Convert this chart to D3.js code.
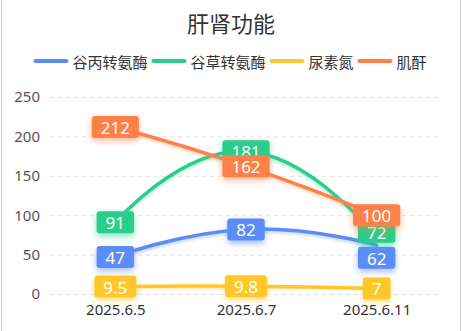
<!DOCTYPE html>
<html>
<head>
<meta charset="utf-8">
<script src="https://cdn.jsdelivr.net/npm/d3@7/dist/d3.min.js"></script>
<style>
  html, body { margin: 0; padding: 0; background: #fff; }
  svg { display: block; font-family: "Noto Sans CJK SC", "Noto Sans", sans-serif; }
</style>
</head>
<body>
<svg id="chart" width="462" height="331"></svg>
<script>
// Liver and kidney function panel
const title = "肝肾功能";
const dates = ["2025.6.5", "2025.6.7", "2025.6.11"];
const seriesNames = ["谷丙转氨酶", "谷草转氨酶", "尿素氮", "肌酐"];
const altValues = [47, 82, 62];
const astValues = [91, 181, 72];
const bunValues = [9.5, 9.8, 7];
const creaValues = [212, 162, 100];
const yTicks = [0, 50, 100, 150, 200, 250];
const colors = ["#5B8CF8", "#2ACD8C", "#FFC72C", "#FF8148"];
// series whose value labels are nudged apart when they collide
const shiftSeries = [true, true, false, false];

const seriesValues = [altValues, astValues, bunValues, creaValues];
const series = seriesNames.map((name, i) => ({
  name, color: colors[i], values: seriesValues[i], shift: shiftSeries[i], index: i
}));

const W = 462, H = 331;
const svg = d3.select("#chart");

// card border (left and right edges)
svg.append("line").attr("x1", 1.5).attr("x2", 1.5).attr("y1", 0).attr("y2", H)
  .attr("stroke", "#cfcfcf").attr("stroke-width", 1);
svg.append("line").attr("x1", W - 1.5).attr("x2", W - 1.5).attr("y1", 0).attr("y2", H)
  .attr("stroke", "#cfcfcf").attr("stroke-width", 1);

// shadow filters per series colour
const defs = svg.append("defs");
series.forEach(s => {
  const f = defs.append("filter").attr("id", "glow" + s.index)
    .attr("x", "-40%").attr("y", "-60%").attr("width", "180%").attr("height", "240%");
  f.append("feDropShadow").attr("dx", 0).attr("dy", 3).attr("stdDeviation", 3)
    .attr("flood-color", s.color).attr("flood-opacity", 0.55);
  const fl = defs.append("filter").attr("id", "lineglow" + s.index)
    .attr("x", "-10%").attr("y", "-50%").attr("width", "120%").attr("height", "200%");
  fl.append("feDropShadow").attr("dx", 0).attr("dy", 2).attr("stdDeviation", 1.5)
    .attr("flood-color", s.color).attr("flood-opacity", 0.35);
});

// title
svg.append("text").attr("x", 231).attr("y", 22)
  .attr("text-anchor", "middle").attr("dominant-baseline", "central")
  .attr("font-size", 22).attr("fill", "#333").text(title);

// legend
const legend = svg.append("g");
let lx = 0;
const legendItems = [];
series.forEach(s => {
  const g = legend.append("g");
  g.append("line").attr("x1", lx + 2).attr("x2", lx + 33).attr("y1", 0).attr("y2", 0)
    .attr("stroke", s.color).attr("stroke-width", 4).attr("stroke-linecap", "round");
  const t = g.append("text").attr("x", lx + 39).attr("y", 0)
    .attr("dominant-baseline", "central").attr("font-size", 15).attr("fill", "#333").text(s.name);
  const tw = t.node().getComputedTextLength();
  lx += 39 + tw + 4;
  legendItems.push(g);
});
const legendWidth = lx - 4;
legend.attr("transform", `translate(${(W - legendWidth) / 2 - 1},61)`);

// scales
const x = d3.scalePoint().domain(dates).range([50, 442]).padding(0.5);
const y = d3.scaleLinear().domain([0, 250]).range([294, 97]);

// horizontal grid
const yAxis = d3.axisLeft(y).tickValues(yTicks).tickSize(-(442 - 50)).tickPadding(10);
const gy = svg.append("g").attr("transform", "translate(50,0)").call(yAxis);
gy.select(".domain").remove();
gy.selectAll(".tick line").attr("stroke", "#dedede").attr("stroke-dasharray", "4,4");
gy.selectAll(".tick text").attr("font-size", 15).attr("fill", "#555")
  .attr("font-family", "'Noto Sans', sans-serif");

// x axis labels
const xAxis = d3.axisBottom(x).tickSize(0).tickPadding(0);
const gx = svg.append("g").attr("transform", "translate(0,304)").call(xAxis);
gx.select(".domain").remove();
gx.selectAll(".tick text").attr("font-size", 15).attr("fill", "#333")
  .attr("font-family", "'Noto Sans', sans-serif");

// smoothed lines
const line = d3.line()
  .x((d, i) => x(dates[i]))
  .y(d => y(d))
  .curve(d3.curveCardinal.tension(-0.5));

const linesG = svg.append("g");
series.forEach(s => {
  linesG.append("path").datum(s.values)
    .attr("d", line)
    .attr("fill", "none")
    .attr("stroke", s.color)
    .attr("stroke-width", 3.5)
    .attr("stroke-linecap", "round")
    .attr("filter", `url(#lineglow${s.index})`);
});

// value labels: centred on their points, colliding ones pushed apart
const labelH = 22, labelGap = 4;
const labels = [];
series.forEach(s => {
  s.values.forEach((v, i) => {
    labels.push({ s, v, i, cx: x(dates[i]), cy: y(v) });
  });
});
dates.forEach((d, i) => {
  const group = labels.filter(l => l.i === i && l.s.shift).sort((a, b) => a.cy - b.cy);
  for (let k = 1; k < group.length; k++) {
    const a = group[k - 1], b = group[k];
    const overlap = (labelH + labelGap) - (b.cy - a.cy);
    if (overlap > 0) {
      a.cy -= overlap * 0.3;
      b.cy += overlap * 0.7;
    }
  }
});

const labelsG = svg.append("g");
labels.forEach(l => {
  const g = labelsG.append("g").attr("transform", `translate(${l.cx},${l.cy})`);
  const rect = g.append("rect").attr("fill", l.s.color).attr("rx", 3)
    .attr("filter", `url(#glow${l.s.index})`);
  const t = g.append("text").attr("x", 0).attr("y", 0.5)
    .attr("text-anchor", "middle").attr("dominant-baseline", "central")
    .attr("font-size", 17).attr("fill", "#fff")
    .attr("font-family", "'Noto Sans', sans-serif")
    .text(l.v);
  const tw = t.node().getComputedTextLength();
  const bw = tw + 18;
  rect.attr("x", -bw / 2).attr("y", -labelH / 2).attr("width", bw).attr("height", labelH);
});
</script>
</body>
</html>
